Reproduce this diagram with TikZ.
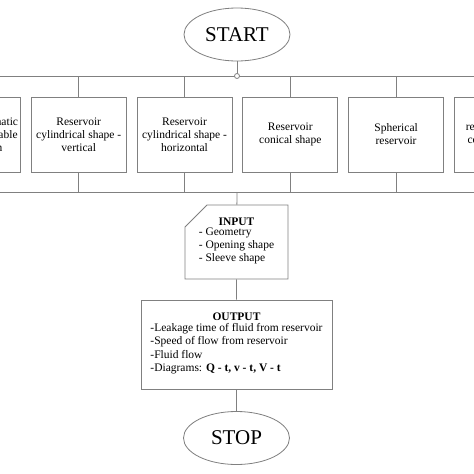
\documentclass[tikz,border=0pt]{standalone}
\usepackage{fontspec}
\setmainfont{Liberation Serif}
\usetikzlibrary{shapes.geometric, shapes.misc, positioning}
\tikzstyle{term} = [ellipse, draw=gray, line width=0.8pt, minimum width=106pt, minimum height=53pt, inner sep=0pt, font=\fontsize{21}{24}\selectfont]
\tikzstyle{shapebox} = [rectangle, draw=gray, line width=0.8pt, align=center, minimum width=95pt, minimum height=75pt, inner sep=0pt, font=\fontsize{11.5}{13}\selectfont]
\tikzstyle{datain} = [chamfered rectangle, chamfered rectangle corners=north west, chamfered rectangle sep=11pt, draw=gray, line width=0.8pt, align=center, minimum width=103pt, minimum height=74pt, inner sep=0pt, font=\fontsize{11.5}{13}\selectfont]
\tikzstyle{dataout} = [rectangle, draw=gray, line width=0.8pt, align=center, minimum width=191pt, minimum height=89pt, inner sep=0pt, font=\fontsize{11.5}{13.5}\selectfont]
\tikzstyle{dot} = [circle, draw=gray, line width=0.8pt, fill=white, inner sep=0pt, minimum size=5pt]
\tikzstyle{line} = [draw=gray, line width=0.8pt]

\begin{document}
\begin{tikzpicture}[x=1pt, y=-1pt, node distance=10pt]
\clip (0,0) rectangle (474,474);
\fill[white] (0,0) rectangle (474,474);

\node [term] (start) at (237,34.5) {START};
\coordinate (split) at (237,76);
\coordinate (join) at (237,192);

\node [shapebox] (b3) at (184.5,134.5) {Reservoir\\cylindrical shape -\\horizontal};
\node [shapebox, left=of b3] (b2) {Reservoir\\cylindrical shape -\\vertical};
\node [shapebox, left=of b2] (b1) {Reservoir prismatic\\shape with variable\\cross section};
\node [shapebox, right=of b3] (b4) {Reservoir\\conical shape};
\node [shapebox, right=of b4] (b5) {Spherical\\reservoir};
\node [shapebox, right=of b5] (b6) {reservoir with a\\complex shape};

\node [datain] (in) at (236.5,242) {\textbf{INPUT}\\
  \begin{tabular}{@{}l@{}}- Geometry\\- Opening shape\\- Sleeve shape\end{tabular}};
\node [dataout] (out) at (236.5,344.5) {\textbf{OUTPUT}\\
  \begin{tabular}{@{}l@{}}-Leakage time of fluid from reservoir\\-Speed of flow from reservoir\\-Fluid flow\\-Diagrams: \textbf{Q - t, v - t, V - t}\end{tabular}};
\node [term] (stop) at (236.5,438) {STOP};

% top bus
\path [line] (start) -- (split);
\path [line] (b1.north |- split) -- (b6.north |- split);
\path [line] (b1.north |- split) -- (b1);
\path [line] (b2.north |- split) -- (b2);
\path [line] (b3.north |- split) -- (b3);
\path [line] (b4.north |- split) -- (b4);
\path [line] (b5.north |- split) -- (b5);
\path [line] (b6.north |- split) -- (b6);
\node [dot] at (split) {};

% lower bus
\path [line] (b1) -- (b1.south |- join);
\path [line] (b2) -- (b2.south |- join);
\path [line] (b3) -- (b3.south |- join);
\path [line] (b4) -- (b4.south |- join);
\path [line] (b5) -- (b5.south |- join);
\path [line] (b6) -- (b6.south |- join);
\path [line] (b1.south |- join) -- (b6.south |- join);
\path [line] (join) -- (in);
\path [line] (in) -- (out);
\path [line] (out) -- (stop);

\end{tikzpicture}
\end{document}
